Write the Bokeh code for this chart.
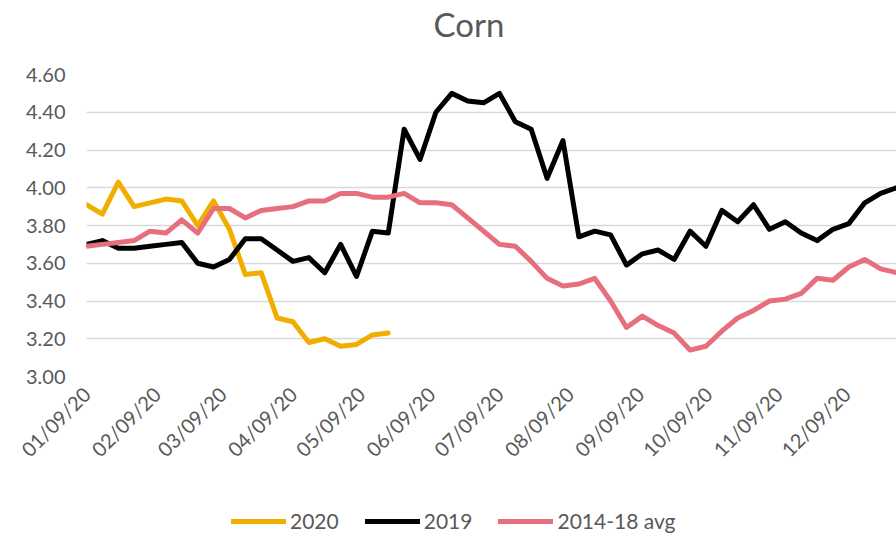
import pandas as pd
from bokeh.plotting import figure
from bokeh.layouts import column
from bokeh.models import (ColumnDataSource, FixedTicker, DatetimeTickFormatter,
                          NumeralTickFormatter, Range1d, Legend, LegendItem)
from bokeh.embed import file_html
from bokeh.resources import INLINE

# ---- data ----
weeks = pd.date_range("2020-01-09", periods=52, freq="7D")

y2020 = [3.91, 3.86, 4.03, 3.90, 3.92, 3.94, 3.93, 3.80, 3.93, 3.78,
         3.54, 3.55, 3.31, 3.29, 3.18, 3.20, 3.16, 3.17, 3.22, 3.23]

y2019 = [3.70, 3.72, 3.68, 3.68, 3.69, 3.70, 3.71, 3.60, 3.58, 3.62,
         3.73, 3.73, 3.67, 3.61, 3.63, 3.55, 3.70, 3.53, 3.77, 3.76,
         4.31, 4.15, 4.40, 4.50, 4.46, 4.45, 4.50, 4.35, 4.31, 4.05,
         4.25, 3.74, 3.77, 3.75, 3.59, 3.65, 3.67, 3.62, 3.77, 3.69,
         3.88, 3.82, 3.91, 3.78, 3.82, 3.76, 3.72, 3.78, 3.81, 3.92,
         3.97, 4.00]

yavg = [3.69, 3.70, 3.71, 3.72, 3.77, 3.76, 3.83, 3.76, 3.89, 3.89,
        3.84, 3.88, 3.89, 3.90, 3.93, 3.93, 3.97, 3.97, 3.95, 3.95,
        3.97, 3.92, 3.92, 3.91, 3.84, 3.77, 3.70, 3.69, 3.61, 3.52,
        3.48, 3.49, 3.52, 3.40, 3.26, 3.32, 3.27, 3.23, 3.14, 3.16,
        3.24, 3.31, 3.35, 3.40, 3.41, 3.44, 3.52, 3.51, 3.58, 3.62,
        3.57, 3.55]

tick_dates = pd.to_datetime(["2020-01-09", "2020-02-09", "2020-03-09", "2020-04-09",
                             "2020-05-09", "2020-06-09", "2020-07-09", "2020-08-09",
                             "2020-09-09", "2020-10-09", "2020-11-09", "2020-12-09"])
y_ticks = [3.0, 3.2, 3.4, 3.6, 3.8, 4.0, 4.2, 4.4, 4.6]

title_text = "Corn"
series_names = ["2020", "2019", "2014-18 avg"]
series_colors = ["#F2AE00", "#000000", "#E66E7D"]


def ms(ts):
    return float(ts.value // 10**6)


FONT = "Lato"
TXT = "#595959"

sources = []
for ys in [y2020, y2019, yavg]:
    xs = [ms(t) for t in weeks[:len(ys)]]
    sources.append(ColumnDataSource(dict(x=xs, y=ys)))

# ---- title strip ----
tt = figure(width=896, height=60, x_range=Range1d(0, 1), y_range=Range1d(0, 1),
            x_axis_location=None, y_axis_location=None,
            output_backend="svg", toolbar_location=None,
            min_border_left=86, min_border_right=0, min_border_top=0,
            min_border_bottom=0)
tt.grid.visible = False
tt.outline_line_color = None
tt.title.text = title_text
tt.title.align = "left"
tt.title.offset = 347
tt.title.standoff = 2
tt.title.text_font = FONT
tt.title.text_font_size = "33px"
tt.title.text_font_style = "normal"
tt.title.text_color = TXT

# ---- main chart ----
p = figure(width=896, height=428, x_axis_type="datetime",
           x_range=Range1d(ms(weeks[0]), ms(weeks[-1])),
           y_range=Range1d(3.0, 4.6),
           output_backend="svg", toolbar_location=None,
           min_border_left=86, min_border_right=0, min_border_top=14,
           min_border_bottom=112)

for src, col in zip(sources, series_colors):
    p.line("x", "y", source=src, line_color=col, line_width=5,
           line_join="round", line_cap="round")

p.xaxis.ticker = FixedTicker(ticks=[ms(d) for d in tick_dates])
p.xaxis.formatter = DatetimeTickFormatter(days="%m/%d/%y", months="%m/%d/%y",
                                          years="%m/%d/%y")
p.xaxis.major_label_orientation = 0.785398
p.xaxis.major_label_standoff = 8
p.yaxis.ticker = FixedTicker(ticks=y_ticks)
p.yaxis.formatter = NumeralTickFormatter(format="0.00")

for ax in (p.xaxis, p.yaxis):
    ax.axis_line_color = None
    ax.major_tick_line_color = None
    ax.minor_tick_line_color = None
    ax.major_label_text_font = FONT
    ax.major_label_text_color = TXT
p.xaxis.major_label_text_font_size = "20px"
p.yaxis.major_label_text_font_size = "20px"
p.yaxis.major_label_standoff = 15

p.xgrid.grid_line_color = None
p.ygrid.grid_line_color = "#D9D9D9"
p.ygrid.grid_line_width = 1.5
p.outline_line_color = None

# ---- legend strip ----
lg = figure(width=896, height=45, x_range=Range1d(0, 1), y_range=Range1d(0, 1),
            x_axis_location=None, y_axis_location=None,
            output_backend="svg", toolbar_location=None,
            min_border_left=86, min_border_right=0, min_border_top=0,
            min_border_bottom=0)
lg.grid.visible = False
lg.outline_line_color = None
keys = []
for name, src, col in zip(series_names, sources, series_colors):
    # same series sources; they lie outside this strip's ranges, so only the key shows
    r = lg.line("x", "y", source=src, line_color=col, line_width=5, line_cap="round")
    keys.append(LegendItem(label=name, renderers=[r]))

legend = Legend(items=keys, orientation="horizontal", location=(145, 0),
                label_text_font=FONT, label_text_font_size="21px",
                label_text_color=TXT, glyph_width=55, spacing=26,
                border_line_color=None, background_fill_alpha=0,
                label_standoff=4, margin=0, padding=4)
lg.add_layout(legend, "center")

open("out.html", "w").write(file_html(column(tt, p, lg, spacing=0), INLINE))
